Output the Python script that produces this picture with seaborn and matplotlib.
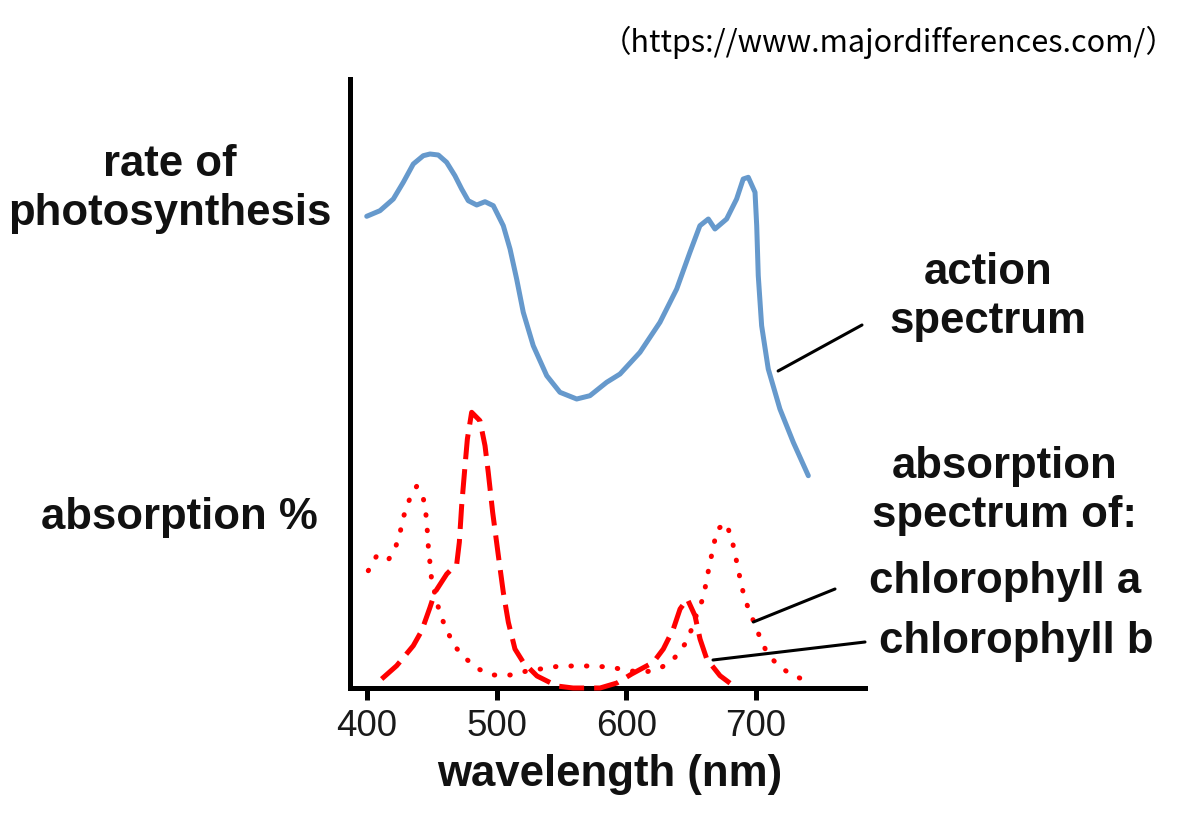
import numpy as np
import pandas as pd
import matplotlib
matplotlib.use("Agg")
import matplotlib.pyplot as plt
import seaborn as sns

sns.set_theme(style="white")
plt.rcParams['font.family'] = ['Liberation Sans', 'DejaVu Sans']

# ---- data (wavelength nm, relative level) ----
action_wl = [399.8, 410.0, 420.3, 428.0, 435.7, 443.4, 448.6, 455.0, 461.4, 467.8, 473.0,
             478.1, 484.6, 491.0, 497.4, 505.1, 510.3, 515.4, 520.5, 528.2, 538.6, 548.8,
             561.7, 571.9, 584.8, 595.1, 610.5, 625.9, 638.8, 649.0, 656.7, 663.2, 668.3,
             677.3, 685.0, 690.1, 694.0, 699.2, 700.5, 701.7, 704.3, 709.4, 718.4, 728.7, 740.3]
action_val = [471.7, 477.3, 489.0, 505.7, 524.0, 532.3, 534.0, 533.0, 525.7, 512.3, 499.0,
              487.3, 483.0, 486.3, 482.3, 462.3, 439.0, 409.0, 375.7, 342.3, 312.3, 295.7,
              289.0, 292.3, 305.7, 314.0, 335.7, 365.7, 399.0, 435.7, 462.3, 469.0, 459.0,
              469.0, 489.0, 509.0, 510.7, 495.7, 462.3, 412.3, 362.3, 319.0, 279.0, 245.7, 212.3]

chla_wl = [401.0, 407.5, 416.4, 421.6, 425.4, 428.0, 432.6, 438.3, 443.4, 445.5, 446.5,
           447.3, 448.6, 449.9, 456.3, 461.5, 467.3, 475.6, 485.8, 497.4, 510.3, 523.4,
           548.8, 574.3, 588.7, 601.5, 614.4, 627.3, 637.5, 645.2, 650.4, 654.3, 659.4,
           662.0, 664.5, 667.1, 669.7, 676.9, 681.3, 683.8, 686.3, 689.0, 692.8, 697.9,
           702.5, 708.2, 715.9, 726.2, 738.6]
chla_val = [117.3, 132.3, 128.0, 139.0, 154.7, 170.7, 188.0, 201.7, 190.0, 173.0, 157.3,
            141.3, 124.7, 107.3, 74.0, 58.0, 42.3, 30.0, 19.0, 13.0, 13.0, 17.0,
            22.0, 22.0, 20.7, 17.3, 15.7, 20.7, 30.7, 44.0, 59.0, 74.0, 90.7,
            109.0, 125.7, 140.7, 158.3, 165.0, 149.0, 134.0, 118.3, 100.7, 84.0, 67.3,
            52.3, 35.7, 24.0, 14.0, 7.3]

chlb_wl = [411.3, 422.9, 435.7, 442.2, 448.6, 452.4, 461.5, 469.2, 471.2, 473.0, 475.6,
           477.4, 480.7, 487.1, 491.0, 493.5, 496.9, 501.3, 505.1, 509.0, 514.1, 520.5,
           531.1, 546.5, 558.9, 579.7, 592.7, 604.1, 620.8, 628.5, 636.2, 641.4, 647.0,
           652.9, 656.8, 662.0, 672.2, 682.5]
chlb_val = [9.0, 22.3, 42.3, 57.3, 80.7, 95.7, 114.0, 124.0, 145.7, 182.3, 222.3,
            249.0, 275.7, 267.3, 242.3, 215.7, 175.7, 132.3, 95.7, 65.7, 39.0, 25.7,
            12.0, 2.0, 0.0, 0.0, 5.0, 14.0, 25.7, 39.0, 59.0, 79.0, 89.0,
            72.3, 49.0, 29.0, 12.3, 2.3]

xticks = [400, 500, 600, 700]

action = pd.DataFrame({"wl": action_wl, "val": action_val})
chla = pd.DataFrame({"wl": chla_wl, "val": chla_val})
chlb = pd.DataFrame({"wl": chlb_wl, "val": chlb_val})

W, H = 1181, 829
fig = plt.figure(figsize=(W / 100, H / 100), dpi=100)
ax = fig.add_axes([350 / W, 1 - 689 / H, (865 - 350) / W, (689 - 80) / H])

blue = "#6699CC"
red = "#FF0000"
lw = 3.6

sns.lineplot(data=action, x="wl", y="val", ax=ax, color=blue, linewidth=lw,
             estimator=None, sort=False, solid_capstyle="round", solid_joinstyle="round")
sns.lineplot(data=chla, x="wl", y="val", ax=ax, color=red, linewidth=lw,
             estimator=None, sort=False, linestyle=(0, (0.1, 3.0)), dash_capstyle="round",
             zorder=3)
sns.lineplot(data=chlb, x="wl", y="val", ax=ax, color=red, linewidth=lw,
             estimator=None, sort=False, linestyle=(0, (5, 2)), dash_capstyle="butt",
             zorder=3, clip_on=False)

ax.set_xlim(386.9, 784)
ax.set_ylim(0, 609)
ax.set_xticks(xticks)
ax.set_xticklabels([str(t) for t in xticks])
ax.set_yticks([])
ax.set_xlabel("")
ax.set_ylabel("")
for s in ["top", "right"]:
    ax.spines[s].set_visible(False)
for s in ["left", "bottom"]:
    ax.spines[s].set_visible(True)
    ax.spines[s].set_color("black")
    ax.spines[s].set_linewidth(3.6)
    ax.spines[s].set_zorder(2.5)
ax.tick_params(axis="x", direction="out", length=8.5, width=3.6, color="black",
               bottom=True, labelsize=26.5, labelcolor="#1a1a1a", pad=6)

def fp(x, y):
    return (x / W, 1 - y / H)

bold = dict(fontweight="bold", fontsize=31.5, color="#111111")
fig.text(*fp(170, 189), "rate of\nphotosynthesis", ha="center", va="center", linespacing=1.27, **bold)
fig.text(*fp(179, 517), "absorption %", ha="center", va="center", **bold)
fig.text(*fp(988, 297), "action\nspectrum", ha="center", va="center", linespacing=1.27, **bold)
fig.text(*fp(1005, 491), "absorption\nspectrum of:", ha="center", va="center", linespacing=1.27, **bold)
fig.text(*fp(1005, 582), "chlorophyll a", ha="center", va="center", **bold)
fig.text(*fp(1016, 641), "chlorophyll b", ha="center", va="center", **bold)
fig.text(*fp(610, 775), "wavelength (nm)", ha="center", va="center", **bold)

fig.text(*fp(889, 42), "（https://www.majordifferences.com/）", ha="center", va="center",
         fontsize=22, color="black", family=["Noto Sans CJK JP", "DejaVu Sans"])

# leader lines (data point on curve -> label, in figure fraction)
ann = dict(xycoords="data", textcoords="figure fraction",
           arrowprops=dict(arrowstyle="-", color="black", lw=2.2, shrinkA=0, shrinkB=0))
ax.annotate("", xy=(717, 317), xytext=fp(862, 326), **ann)
ax.annotate("", xy=(697.9, 66), xytext=fp(835, 590), **ann)
ax.annotate("", xy=(666.8, 28), xytext=fp(865, 643), **ann)

fig.savefig("out.png", dpi=100, facecolor="white")
